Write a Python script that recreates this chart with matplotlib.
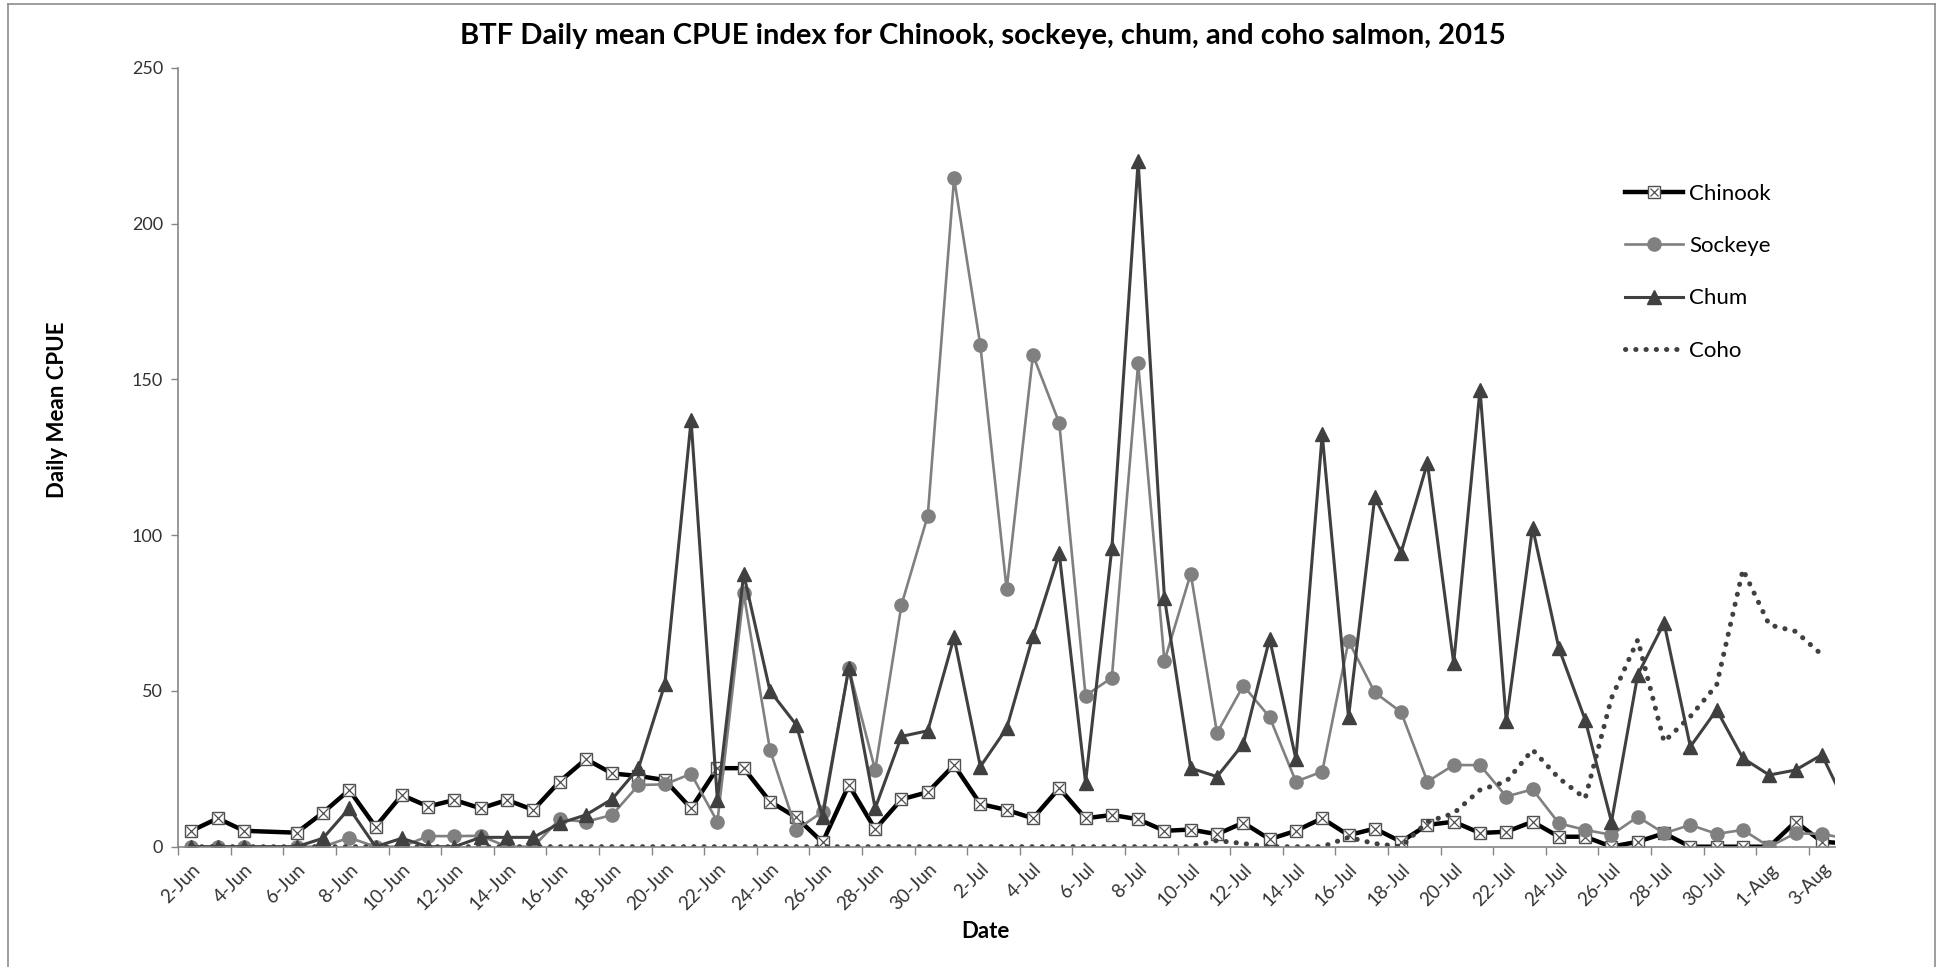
import numpy as np
import pandas as pd
import matplotlib
matplotlib.use('Agg')
import matplotlib.pyplot as plt
from matplotlib.lines import Line2D

plt.rcParams['font.family'] = ['Lato', 'DejaVu Sans']

# sampling dates (5-Jun has no data)
dates = ['2-Jun', '3-Jun', '4-Jun', '6-Jun', '7-Jun', '8-Jun', '9-Jun', '10-Jun', '11-Jun',
         '12-Jun', '13-Jun', '14-Jun', '15-Jun', '16-Jun', '17-Jun', '18-Jun', '19-Jun',
         '20-Jun', '21-Jun', '22-Jun', '23-Jun', '24-Jun', '25-Jun', '26-Jun', '27-Jun',
         '28-Jun', '29-Jun', '30-Jun', '1-Jul', '2-Jul', '3-Jul', '4-Jul', '5-Jul', '6-Jul',
         '7-Jul', '8-Jul', '9-Jul', '10-Jul', '11-Jul', '12-Jul', '13-Jul', '14-Jul', '15-Jul',
         '16-Jul', '17-Jul', '18-Jul', '19-Jul', '20-Jul', '21-Jul', '22-Jul', '23-Jul',
         '24-Jul', '25-Jul', '26-Jul', '27-Jul', '28-Jul', '29-Jul', '30-Jul', '31-Jul',
         '1-Aug', '2-Aug', '3-Aug', '4-Aug']

chinook = [5.1, 9.1, 5.1, 4.5, 10.9, 18.2, 6.4, 16.6, 12.9,
           15.0, 12.3, 15.0, 11.8, 20.9, 28.1, 23.5, 22.7,
           21.4, 12.3, 25.2, 25.2, 14.5, 9.4, 1.4, 19.8,
           5.6, 15.2, 17.5, 26.2, 13.7, 11.8, 9.1, 18.8, 9.1,
           10.2, 8.8, 5.1, 5.5, 4.0, 7.7, 2.4, 5.1, 9.1,
           3.7, 5.8, 1.6, 7.0, 8.0, 4.4, 4.8, 8.0,
           3.2, 3.2, 0.0, 1.6, 4.3, 0.0, 0.0, 0.0,
           0.0, 8.0, 1.6, 1.0]

sockeye = [0.0, 0.0, 0.0, 0.0, 0.0, 2.9, 0.0, 0.0, 3.4,
           3.4, 3.5, 0.0, 0.0, 8.8, 8.0, 10.2, 19.8,
           20.0, 23.4, 8.0, 81.3, 31.1, 5.4, 11.2, 57.3,
           24.6, 77.6, 106.2, 214.5, 160.9, 82.6, 157.8, 136.0, 48.5,
           54.2, 155.1, 59.6, 87.6, 36.5, 51.7, 41.6, 20.9, 24.1,
           66.0, 49.5, 43.2, 20.9, 26.2, 26.2, 16.1, 18.4,
           7.5, 5.4, 3.8, 9.6, 4.3, 7.0, 4.1, 5.4,
           0.0, 4.3, 4.1, 2.5]

chum = [0.0, 0.0, 0.0, 0.0, 2.7, 12.3, 0.0, 2.7, 0.0,
        0.0, 3.0, 3.0, 3.0, 7.5, 10.2, 15.3, 25.2,
        52.1, 136.8, 15.0, 87.5, 50.0, 39.1, 9.6, 57.5,
        12.3, 35.4, 37.2, 67.2, 25.7, 38.0, 67.5, 94.1, 20.6,
        95.7, 219.9, 79.9, 25.2, 22.5, 33.0, 66.7, 28.1, 132.3,
        41.6, 112.3, 94.4, 123.1, 58.9, 146.7, 40.2, 102.4,
        63.7, 40.7, 8.0, 55.2, 71.8, 32.1, 43.9, 28.4,
        23.0, 24.6, 29.5, 12.0]

coho = [0.0, 0.0, 0.0, 0.0, 0.0, 0.0, 0.0, 0.0, 0.0,
        0.0, 0.0, 0.0, 0.0, 0.0, 0.0, 0.0, 0.0,
        0.0, 0.0, 0.0, 0.0, 0.0, 0.0, 0.0, 0.0,
        0.0, 0.0, 0.0, 0.0, 0.0, 0.0, 0.0, 0.0, 0.0,
        0.0, 0.0, 0.0, 0.0, 2.0, 1.0, 0.0, 0.0, 0.0,
        3.0, 1.0, 0.0, 8.0, 10.7, 18.2, 20.9, 31.1,
        22.0, 15.5, 47.7, 66.4, 33.7, 41.8, 51.9, 88.9,
        71.2, 69.1, 61.6, np.nan]

tick_labels = ['2-Jun', '4-Jun', '6-Jun', '8-Jun', '10-Jun', '12-Jun', '14-Jun', '16-Jun',
               '18-Jun', '20-Jun', '22-Jun', '24-Jun', '26-Jun', '28-Jun', '30-Jun', '2-Jul',
               '4-Jul', '6-Jul', '8-Jul', '10-Jul', '12-Jul', '14-Jul', '16-Jul', '18-Jul',
               '20-Jul', '22-Jul', '24-Jul', '26-Jul', '28-Jul', '30-Jul', '1-Aug', '3-Aug']

start = pd.Timestamp('2015-06-02')


def to_days(labels):
    d = pd.to_datetime([s + '-2015' for s in labels], format='%d-%b-%Y')
    return np.asarray((d - start).days, dtype=float)


x = to_days(dates)
x_lab = to_days(tick_labels)

W, H = 1944, 967
fig = plt.figure(figsize=(W / 100, H / 100), dpi=100)
ax = fig.add_axes([178.3 / W, 1 - 846.7 / H, (1835 - 178.3) / W, (846.7 - 67.7) / H])

c_dark = '#404040'
c_grey = '#808080'

ax.plot(x, chinook, color='black', lw=3.2, marker='s', ms=9, mfc='white',
        mec='#505050', mew=1.0, zorder=2.0)
ax.plot(x, chinook, ls='none', marker='x', ms=7, mec='#505050', mew=0.9, zorder=2.01)
ax.plot(x, sockeye, color=c_grey, lw=1.9, marker='o', ms=9.5, mfc=c_grey, mec=c_grey,
        zorder=2.1)
ax.plot(x, chum, color=c_dark, lw=2.2, marker='^', ms=10.5, mfc=c_dark, mec=c_dark,
        zorder=2.2)
ax.plot(x, coho, color=c_dark, lw=3.6, ls=(0, (0.05, 2.0)), dash_capstyle='round',
        zorder=2.3)

ax.set_xlim(-0.5, 62.5)
ax.set_ylim(0, 250)

ax.set_yticks([0, 50, 100, 150, 200, 250])
ax.tick_params(axis='y', direction='out', length=5, width=1, color='#868686',
               labelsize=13, labelcolor='#333333', pad=6)

ax.set_xticks(x_lab - 0.5)
ax.set_xticklabels([])
ax.set_xticks(x_lab, minor=True)
ax.set_xticklabels(tick_labels, minor=True, rotation=45, ha='right', va='top',
                   rotation_mode='anchor')
ax.tick_params(axis='x', which='major', direction='out', length=6, width=1, color='#868686')
ax.tick_params(axis='x', which='minor', length=0, labelsize=13.5, labelcolor='#333333',
               pad=10)

for side in ['top', 'right']:
    ax.spines[side].set_visible(False)
for side in ['left', 'bottom']:
    ax.spines[side].set_color('#868686')
    ax.spines[side].set_linewidth(1.2)

fig.text(983 / W, 1 - 36 / H,
         'BTF Daily mean CPUE index for Chinook, sockeye, chum, and coho salmon, 2015',
         ha='center', va='center', fontsize=21, fontweight='bold')
fig.text(57 / W, 1 - 410 / H, 'Daily Mean CPUE', rotation=90, ha='center', va='center',
         fontsize=16, fontweight='bold')
fig.text(985 / W, 1 - 932 / H, 'Date', ha='center', va='center', fontsize=16,
         fontweight='bold')

h_chinook = (Line2D([], [], color='black', lw=3.2, marker='s', ms=8, mfc='white',
                    mec='#505050', mew=1.0),
             Line2D([], [], ls='none', marker='x', ms=6, mec='#505050', mew=0.9))
h_sockeye = Line2D([], [], color=c_grey, lw=1.9, marker='o', ms=9.5, mfc=c_grey, mec=c_grey)
h_chum = Line2D([], [], color=c_dark, lw=2.2, marker='^', ms=10.5, mfc=c_dark, mec=c_dark)
h_coho = Line2D([], [], color=c_dark, lw=3.6, ls=(0, (0.05, 2.0)), dash_capstyle='round')

fig.legend([h_chinook, h_sockeye, h_chum, h_coho], ['Chinook', 'Sockeye', 'Chum', 'Coho'],
           loc='upper left', bbox_to_anchor=(1625 / W, 1 - 184 / H),
           bbox_transform=fig.transFigure, frameon=False, fontsize=16,
           handlelength=2.6, handletextpad=0.3, labelspacing=1.45,
           borderpad=0, borderaxespad=0, numpoints=1)

# chart area border (left, top, right)
for xs, ys in [([8, 8], [4, 967]), ([8, 1935], [4, 4]), ([1935, 1935], [4, 967])]:
    fig.add_artist(Line2D([v / W for v in xs], [1 - v / H for v in ys],
                          transform=fig.transFigure, color='#8c8c8c', lw=1.2))

fig.savefig('out.png', dpi=100, facecolor='white')
